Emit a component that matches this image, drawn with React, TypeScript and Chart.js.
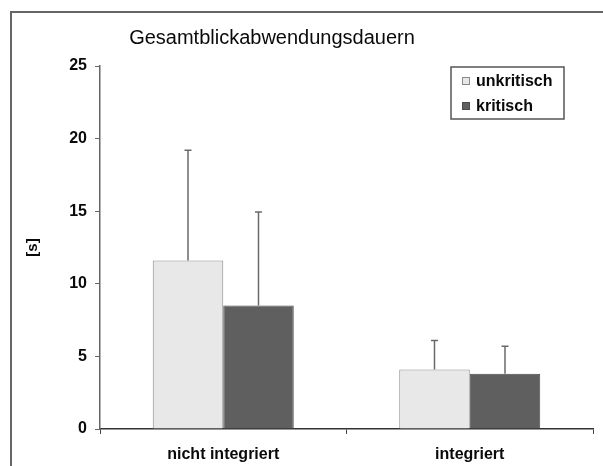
import React, { useEffect, useRef } from "react";
import { Chart, registerables } from "chart.js";

Chart.register(...registerables);

const categories = ["nicht integriert", "integriert"];
const seriesNames = ["unkritisch", "kritisch"];
const unkritischMeans = [11.6, 4.1];
const kritischMeans = [8.5, 3.8];
const unkritischSD = [7.6, 2.0];
const kritischSD = [6.45, 1.9];
const yTicks = [0, 5, 10, 15, 20, 25];
const chartTitle = "Gesamtblickabwendungsdauern";
const yAxisTitle = "[s]";

const fillColors = ["#e8e8e8", "#5f5f5f"];
const edgeColors = ["#8a8a8a", "#4a4a4a"];
const FONT = "'Liberation Sans', Arial, sans-serif";

// Upward-only standard deviation whiskers on top of each bar
const errorBarPlugin = {
  id: "errorBars",
  afterDatasetsDraw(chart: any) {
    const { ctx } = chart;
    const yScale = chart.scales.y;
    chart.data.datasets.forEach((ds: any, di: number) => {
      const meta = chart.getDatasetMeta(di);
      meta.data.forEach((el: any, i: number) => {
        const top = yScale.getPixelForValue(ds.data[i] + ds.sd[i]);
        ctx.save();
        ctx.strokeStyle = "#6a6a6a";
        ctx.lineWidth = 1.5;
        ctx.beginPath();
        ctx.moveTo(el.x, el.y);
        ctx.lineTo(el.x, top);
        ctx.moveTo(el.x - 3.5, top);
        ctx.lineTo(el.x + 3.5, top);
        ctx.stroke();
        ctx.restore();
      });
    });
  },
};

// Frame, heading and boxed legend
const decorPlugin = {
  id: "decor",
  beforeDraw(chart: any) {
    const { ctx, width, height } = chart;
    ctx.save();
    ctx.fillStyle = "#ffffff";
    ctx.fillRect(0, 0, width, height);
    ctx.strokeStyle = "#666666";
    ctx.lineWidth = 2;
    ctx.beginPath();
    ctx.moveTo(11, height);
    ctx.lineTo(11, 12);
    ctx.lineTo(width, 12);
    ctx.stroke();
    ctx.restore();
  },
  afterDraw(chart: any) {
    const { ctx } = chart;
    ctx.save();
    ctx.fillStyle = "#0a0a0a";
    ctx.font = `20px ${FONT}`;
    ctx.textAlign = "center";
    ctx.textBaseline = "middle";
    ctx.fillText(chartTitle, 272, 38);

    // legend box
    ctx.strokeStyle = "#555555";
    ctx.lineWidth = 1.5;
    ctx.strokeRect(451, 67, 113, 52);
    ctx.font = `bold 16px ${FONT}`;
    ctx.textAlign = "left";
    seriesNames.forEach((name, i) => {
      const cy = 81 + i * 25;
      ctx.fillStyle = fillColors[i];
      ctx.fillRect(462, cy - 4, 8, 8);
      ctx.strokeStyle = edgeColors[i];
      ctx.lineWidth = 1;
      ctx.strokeRect(462.5, cy - 3.5, 7, 7);
      ctx.fillStyle = "#0a0a0a";
      ctx.fillText(name, 476, cy + 1);
    });
    ctx.restore();
  },
};

export default function App() {
  const canvasRef = useRef<HTMLCanvasElement>(null);

  useEffect(() => {
    if (!canvasRef.current) return;
    const chart = new Chart(canvasRef.current, {
      type: "bar",
      data: {
        labels: categories,
        datasets: [
          {
            label: seriesNames[0],
            data: unkritischMeans,
            sd: unkritischSD,
            backgroundColor: fillColors[0],
            borderColor: edgeColors[0],
            borderWidth: 1,
          } as any,
          {
            label: seriesNames[1],
            data: kritischMeans,
            sd: kritischSD,
            backgroundColor: fillColors[1],
            borderColor: edgeColors[1],
            borderWidth: 1,
          } as any,
        ],
      },
      options: {
        responsive: false,
        animation: false,
        layout: { padding: { top: 66, right: 10, left: 0, bottom: 0 } },
        datasets: { bar: { categoryPercentage: 0.572, barPercentage: 1.0 } },
        plugins: {
          legend: { display: false },
          title: { display: false },
          tooltip: { enabled: false },
        },
        scales: {
          x: {
            offset: true,
            grid: {
              offset: true,
              drawOnChartArea: false,
              tickLength: 5,
              color: "#444444",
              lineWidth: 1,
            },
            border: { color: "#333333", width: 1.5 },
            ticks: {
              color: "#0a0a0a",
              font: { family: FONT, size: 16, weight: "bold" },
              padding: 11,
            },
            afterFit(scale: any) {
              scale.height = 37;
            },
          },
          y: {
            min: 0,
            max: 25,
            afterBuildTicks(scale: any) {
              scale.ticks = yTicks.map((v) => ({ value: v }));
            },
            grid: {
              drawOnChartArea: false,
              tickLength: 5,
              color: "#666666",
              lineWidth: 1,
            },
            border: { color: "#666666", width: 1.5 },
            ticks: {
              color: "#0a0a0a",
              font: { family: FONT, size: 16, weight: "bold" },
              padding: 8,
            },
            title: {
              display: true,
              text: yAxisTitle,
              color: "#0a0a0a",
              font: { family: FONT, size: 15, weight: "bold" },
              padding: { top: 24, bottom: 0 },
            },
            afterFit(scale: any) {
              scale.width = 100;
            },
          },
        },
      },
      plugins: [decorPlugin, errorBarPlugin],
    });
    return () => chart.destroy();
  }, []);

  return (
    <div style={{ position: "absolute", left: 0, top: 0, width: 603, height: 466 }}>
      <canvas ref={canvasRef} width={603} height={466} style={{ display: "block" }} />
    </div>
  );
}
